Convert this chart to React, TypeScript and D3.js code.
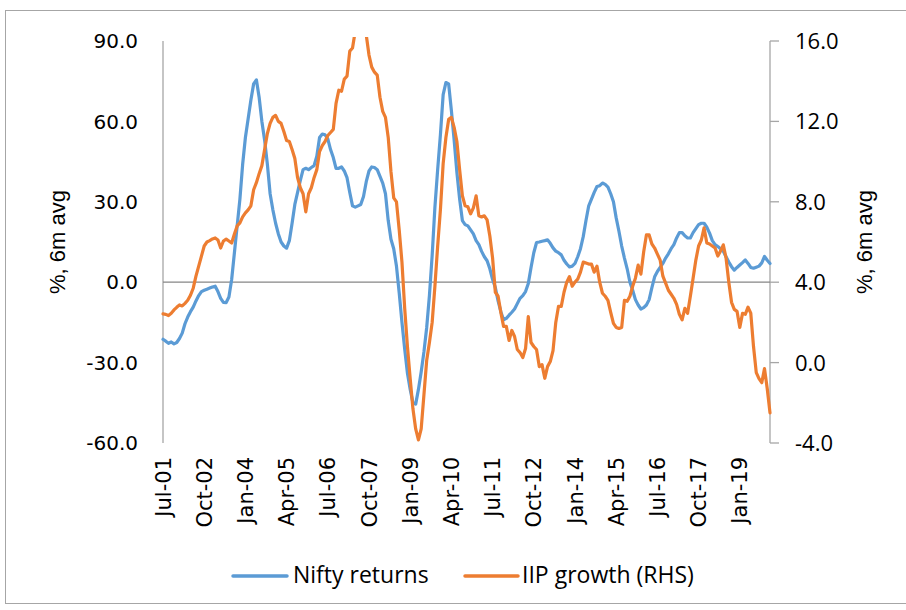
import React from "react";
import * as d3 from "d3";

// Monthly data, Jul-2001 .. Dec-2019
const START_YEAR = 2001;
const START_MONTH = 6; // July (0-based)

// Nifty returns, % 6m avg (left axis)
const niftyReturns: number[] = [
  -21.3, -22, -22.8, -22.3, -23, -22.5, -21, -19, -15.5, -13,
  -11, -9.3, -7, -5, -3.5, -3, -2.6, -2.2, -1.8, -1.5,
  -3.5, -6, -7.5, -7.6, -5.5, 1, 11, 21, 31, 44,
  54, 61, 68, 74, 75.5, 69, 60, 53, 44, 33,
  27, 22, 18, 15, 13.5, 12.7, 15.5, 22, 29, 33.5,
  38, 42, 42.5, 42, 42.8, 43.5, 47, 54, 55.3, 55,
  53.5, 49.5, 46.5, 42.5, 42.5, 43, 41.5, 39, 33.5, 28.5,
  28, 28.5, 29, 32, 37.5, 41.5, 43, 42.8, 42, 39.5,
  37, 33, 23, 16, 12.5, 6, -4, -15, -25, -34,
  -40, -45, -45.5, -40, -33.5, -26, -17, -5, 10, 28,
  42, 55, 70, 74.5, 74, 64, 53, 41, 31, 23,
  21.5, 21, 19.5, 18, 15.5, 14, 11.5, 9.5, 8, 5,
  1, -2, -7, -11, -14, -13.5, -12.3, -11.2, -10, -8,
  -6, -5, -3.5, -0.5, 5.5, 11, 14.8, 15, 15.3, 15.5,
  15.8, 14.5, 12.8, 11.6, 11, 10.2, 8.2, 6.8, 5.7, 6,
  7, 9.5, 12.5, 17, 23, 28.5, 31, 33.5, 35.7, 36,
  37, 36.5, 35.5, 33, 30, 24, 19, 13.5, 9, 5,
  0, -3, -6.5, -8.5, -10, -9.5, -8.5, -6.5, -2, 2,
  4, 5.5, 7, 9, 10.6, 12.5, 14, 16.5, 18.5, 18.5,
  17.3, 16.5, 16.5, 18.5, 20, 21.5, 22, 22, 20.5, 18.3,
  15.5, 14, 13.3, 12.5, 11.5, 9.5, 7.5, 5.8, 4.5, 5.5,
  6.4, 7.3, 8.3, 7, 5.5, 5.2, 5.6, 6, 7.2, 9.6,
  8.2, 7,
];

// IIP growth, % 6m avg (right axis)
const iipGrowth: number[] = [
  2.42, 2.4, 2.34, 2.45, 2.62, 2.75, 2.87, 2.82, 2.95, 3.1,
  3.35, 3.7, 4.3, 4.8, 5.3, 5.8, 6.0, 6.07, 6.15, 6.2,
  6.1, 5.7, 6.05, 6.14, 6.05, 5.95, 6.4, 6.8, 6.95, 7.25,
  7.45, 7.6, 7.8, 8.6, 8.95, 9.4, 9.8, 10.6, 11.4, 11.9,
  12.2, 12.3, 12.0, 11.9, 11.5, 11.05, 11.0, 10.6, 10.15, 9.2,
  8.7, 8.4, 7.5, 8.4, 8.7, 9.2, 9.6, 10.5, 10.8, 11.0,
  11.3, 11.45, 11.6, 12.9, 13.55, 13.5, 14.1, 14.25, 15.5, 15.65,
  16.5, 17.0, 17.3, 17.0, 16.3, 15.3, 14.7, 14.45, 14.3, 13.2,
  12.5, 12.2, 11.2, 9.5, 8.2, 8.0, 6.6, 5.0, 2.7, 0.8,
  -0.8, -2.3, -3.3, -3.85, -3.3, -1.6, 0.1, 1.0, 2.0, 3.8,
  5.8, 7.6, 9.9, 11.2, 12.1, 12.2, 11.7, 11.0, 9.6, 8.3,
  7.8, 7.75, 7.4, 7.7, 8.3, 7.3, 7.25, 7.3, 7.1, 6.3,
  5.2, 3.5, 3.3, 2.5, 1.8, 1.8, 1.1, 1.6, 1.3, 0.65,
  0.5, 0.25, 0.7, 2.29, 1.0, 0.8, 0.65, -0.2, -0.1, -0.78,
  -0.2, 0.05, 0.6, 2.0, 2.8, 2.8, 3.5, 4.0, 4.28, 3.8,
  4.0, 4.15, 4.5, 5.0, 4.95, 4.9, 4.9, 4.5, 4.8, 4.0,
  3.45, 3.3, 3.1, 2.5, 1.95, 1.75, 1.7, 1.75, 3.1, 3.05,
  3.3, 3.8, 4.2, 4.85, 4.4, 5.5, 6.35, 6.35, 5.9, 5.7,
  5.4, 5.1, 4.3, 3.95, 3.6, 3.4, 3.2, 2.9, 2.4, 2.13,
  2.7, 2.45, 3.3, 4.2, 5.1, 5.8, 6.1, 6.7, 5.95, 5.9,
  5.8, 5.7, 5.3, 5.55, 5.86, 5.2, 4.0, 3.0, 2.65, 2.55,
  1.75, 2.45, 2.4, 2.76, 2.46, 0.8, -0.5, -0.8, -1.0, -0.3,
  -1.3, -2.5,
];

const tickLabels = [
  "Jul-01", "Oct-02", "Jan-04", "Apr-05", "Jul-06", "Oct-07", "Jan-09", "Apr-10",
  "Jul-11", "Oct-12", "Jan-14", "Apr-15", "Jul-16", "Oct-17", "Jan-19",
];
const TICK_STEP = 15;
const leftTicks = [-60, -30, 0, 30, 60, 90];
const rightTicks = [-4, 0, 4, 8, 12, 16];
const seriesNames = ["Nifty returns", "IIP growth (RHS)"];
const axisTitle = "%, 6m avg";

const W = 906;
const H = 610;
const PL = 163;
const PR = 770;
const PT = 41;
const PB = 443;
const BLUE = "#5B9BD5";
const ORANGE = "#ED7D31";

export default function App() {
  const months = niftyReturns.map((_, i) => new Date(START_YEAR, START_MONTH + i, 1));
  const x = d3
    .scalePoint<string>()
    .domain(months.map((d) => d.toISOString()))
    .range([PL, PR]);
  const xi = (i: number) => x(months[i].toISOString()) as number;
  const yL = d3.scaleLinear().domain([-60, 90]).range([PB, PT]);
  const yR = d3.scaleLinear().domain([-4, 16]).range([PB, PT]);

  const niftyLine = d3
    .line<number>()
    .x((_, i) => xi(i))
    .y((d) => yL(d))
    .curve(d3.curveLinear);
  const iipLine = d3
    .line<number>()
    .x((_, i) => xi(i))
    .y((d) => yR(d))
    .curve(d3.curveLinear);

  const lblFont = "'DejaVu Sans', Verdana, sans-serif";
  const rFont = "'Open Sans', sans-serif";
  const titleFont = "'Liberation Sans', Arial, sans-serif";

  return (
    <svg
      width={W}
      height={H}
      viewBox={`0 0 ${W} ${H}`}
      style={{ position: "absolute", left: 0, top: 0, background: "#fff" }}
    >
      <rect x={0} y={0} width={W} height={H} fill="#fff" />
      <rect x={5.5} y={10.5} width={W} height={593} fill="none" stroke="#A6A6A6" strokeWidth={1} />
      <defs>
        <clipPath id="plotClip">
          <rect x={PL - 4} y={PT - 4} width={PR - PL + 8} height={PB - PT + 8} />
        </clipPath>
      </defs>

      {/* left axis line */}
      <line x1={PL} x2={PL} y1={PT} y2={PB} stroke="#A6A6A6" strokeWidth={1.3} />
      {/* right axis line + ticks */}
      <line x1={PR} x2={PR} y1={PT} y2={PB} stroke="#A6A6A6" strokeWidth={1.3} />
      {rightTicks.map((t) => (
        <line key={"rt" + t} x1={PR} x2={PR + 9} y1={yR(t)} y2={yR(t)} stroke="#A6A6A6" strokeWidth={1.3} />
      ))}
      {/* zero/category axis line */}
      <line x1={PL} x2={PR} y1={yL(0)} y2={yL(0)} stroke="#868686" strokeWidth={1.3} />

      {/* left tick labels */}
      {leftTicks.map((t) => (
        <text
          key={"lt" + t}
          x={138}
          y={yL(t)}
          dy="0.36em"
          textAnchor="end"
          fontFamily={lblFont}
          fontSize={20}
          fill="#000"
        >
          {t.toFixed(1)}
        </text>
      ))}
      {/* right tick labels */}
      {rightTicks.map((t) => (
        <text
          key={"rl" + t}
          x={795}
          y={yR(t)}
          dy="0.36em"
          textAnchor="start"
          fontFamily={rFont}
          fontSize={22}
          fill="#000"
        >
          {t.toFixed(1)}
        </text>
      ))}
      {/* x tick labels */}
      {tickLabels.map((lab, k) => {
        const px = xi(k * TICK_STEP);
        return (
          <text
            key={"xl" + lab}
            transform={`translate(${px},457) rotate(-90)`}
            textAnchor="end"
            dy="0.36em"
            fontFamily={lblFont}
            fontSize={21}
            fill="#000"
          >
            {lab}
          </text>
        );
      })}

      {/* axis titles */}
      <text
        transform={`translate(65,242) rotate(-90)`}
        textAnchor="middle"
        fontFamily={titleFont}
        fontSize={22}
        fill="#000"
      >
        {axisTitle}
      </text>
      <text
        transform={`translate(872,242) rotate(-90)`}
        textAnchor="middle"
        fontFamily={titleFont}
        fontSize={22}
        fill="#000"
      >
        {axisTitle}
      </text>

      {/* series */}
      <g clipPath="url(#plotClip)">
        <path d={niftyLine(niftyReturns) || ""} fill="none" stroke={BLUE} strokeWidth={3.2} strokeLinejoin="round" strokeLinecap="round" />
        <path d={iipLine(iipGrowth) || ""} fill="none" stroke={ORANGE} strokeWidth={3.2} strokeLinejoin="round" strokeLinecap="round" />
      </g>

      {/* legend */}
      <line x1={233} x2={287} y1={576} y2={576} stroke={BLUE} strokeWidth={3.5} strokeLinecap="round" />
      <text x={293} y={583} fontFamily={rFont} fontSize={23} fill="#000">
        {seriesNames[0]}
      </text>
      <line x1={465} x2={518} y1={576} y2={576} stroke={ORANGE} strokeWidth={3.5} strokeLinecap="round" />
      <text x={522} y={583} fontFamily={rFont} fontSize={23} fill="#000">
        {seriesNames[1]}
      </text>
    </svg>
  );
}
